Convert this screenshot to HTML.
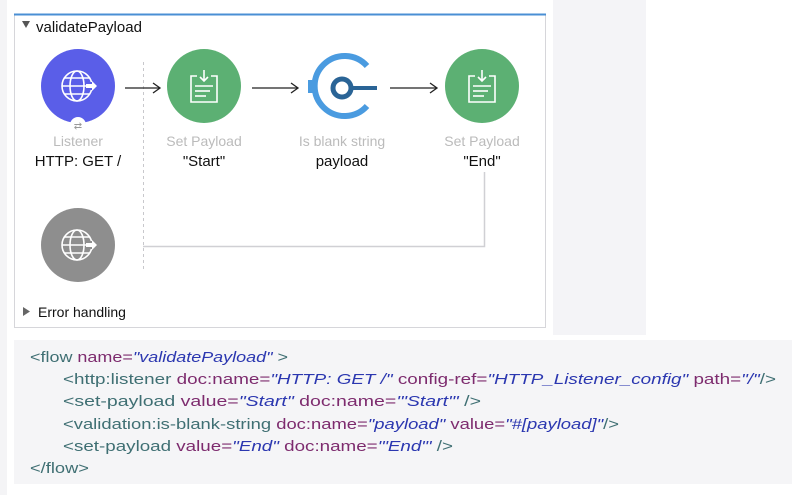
<!DOCTYPE html>
<html><head><meta charset="utf-8"><style>
html,body{margin:0;padding:0;background:#fff;}
svg{display:block;}
text{font-family:"Liberation Sans",sans-serif;}
</style></head><body>
<svg width="792" height="495" viewBox="0 0 792 495" xmlns="http://www.w3.org/2000/svg">
<rect x="0" y="0" width="792" height="495" fill="#fff"/>
<rect x="553" y="0" width="93" height="335" fill="#f4f4f7"/>
<rect x="0" y="0" width="7" height="495" fill="#f4f4f6"/>
<rect x="14.5" y="14.5" width="531" height="313" fill="#fff" stroke="#d6d6da" stroke-width="1"/>
<line x1="14" y1="14.5" x2="546" y2="14.5" stroke="#4a8fd4" stroke-width="2"/>
<polygon points="22,21 30,21 26,28" fill="#555"/>
<text x="36" y="32" font-size="15" fill="#111">validatePayload</text>
<line x1="143.5" y1="62" x2="143.5" y2="272" stroke="#c8c8cc" stroke-dasharray="3,3"/>
<polyline points="143,246.5 484.5,246.5 484.5,172" fill="none" stroke="#d0d0d4" stroke-width="1.5"/>
<g stroke="#222" stroke-width="1.3" fill="none">
<line x1="125" y1="88" x2="159" y2="88"/><polyline points="153,83 160,88 153,93"/>
<line x1="252" y1="88" x2="297" y2="88"/><polyline points="291,83 298,88 291,93"/>
<line x1="390" y1="88" x2="436" y2="88"/><polyline points="430,83 437,88 430,93"/>
</g>
<circle cx="78" cy="86" r="37" fill="#5a5ee8"/>
<g stroke="#fff" stroke-width="1.6" fill="none">
<circle cx="77" cy="86" r="15"/><ellipse cx="77" cy="86" rx="7" ry="15"/>
<line x1="62" y1="86" x2="92" y2="86"/><line x1="64" y1="78" x2="90" y2="78"/><line x1="64" y1="94" x2="90" y2="94"/>
</g>
<rect x="86" y="82" width="11" height="8" fill="#5a5ee8"/>
<polygon points="86,84 92,84 92,81 97,86 92,91 92,88 86,88" fill="#fff"/>
<circle cx="78" cy="125" r="8" fill="#fff"/>
<text x="78" y="129" font-size="10" fill="#999" text-anchor="middle">⇄</text>
<text x="78" y="146" font-size="14" fill="#bbb" text-anchor="middle">Listener</text>
<text x="78" y="166" font-size="15" fill="#111" text-anchor="middle">HTTP: GET /</text>
<circle cx="204" cy="86" r="37" fill="#5cb073"/>
<g stroke="#fff" stroke-width="1.6" fill="none">
<polyline points="197,76 191,76 191,102 217,102 217,76 211,76"/>
<line x1="204" y1="70" x2="204" y2="80"/><polyline points="200,77 204,81 208,77"/>
<line x1="195" y1="86" x2="213" y2="86"/><line x1="195" y1="91" x2="210" y2="91"/><line x1="195" y1="96" x2="206" y2="96"/>
</g>
<text x="204" y="146" font-size="14" fill="#bbb" text-anchor="middle">Set Payload</text>
<text x="204" y="166" font-size="15" fill="#111" text-anchor="middle">"Start"</text>
<path d="M 367 66 A 30 30 0 1 0 367 106" fill="none" stroke="#4a9be0" stroke-width="6"/>
<rect x="308" y="80" width="6" height="13" fill="#4a9be0"/>
<circle cx="342" cy="88" r="9" fill="none" stroke="#2a6496" stroke-width="5"/>
<line x1="350" y1="88" x2="377" y2="88" stroke="#2a6496" stroke-width="4"/>
<text x="342" y="146" font-size="14" fill="#bbb" text-anchor="middle">Is blank string</text>
<text x="342" y="166" font-size="15" fill="#111" text-anchor="middle">payload</text>
<circle cx="482" cy="86" r="37" fill="#5cb073"/>
<g stroke="#fff" stroke-width="1.6" fill="none">
<polyline points="475,76 469,76 469,102 495,102 495,76 489,76"/>
<line x1="482" y1="70" x2="482" y2="80"/><polyline points="478,77 482,81 486,77"/>
<line x1="473" y1="86" x2="491" y2="86"/><line x1="473" y1="91" x2="488" y2="91"/><line x1="473" y1="96" x2="484" y2="96"/>
</g>
<text x="482" y="146" font-size="14" fill="#bbb" text-anchor="middle">Set Payload</text>
<text x="482" y="166" font-size="15" fill="#111" text-anchor="middle">"End"</text>
<circle cx="78" cy="245" r="37" fill="#8e8e8e"/>
<g stroke="#fff" stroke-width="1.6" fill="none">
<circle cx="77" cy="245" r="15"/><ellipse cx="77" cy="245" rx="7" ry="15"/>
<line x1="62" y1="245" x2="92" y2="245"/><line x1="64" y1="237" x2="90" y2="237"/><line x1="64" y1="253" x2="90" y2="253"/>
</g>
<rect x="86" y="241" width="11" height="8" fill="#8e8e8e"/>
<polygon points="86,243 92,243 92,240 97,245 92,250 92,247 86,247" fill="#fff"/>
<polygon points="23,307 23,316 30,311.5" fill="#666"/>
<text x="38" y="317" font-size="14" fill="#111">Error handling</text>
<rect x="14" y="340" width="778" height="144" fill="#f5f5f7"/>
<g font-size="15">
<text x="30" y="362" textLength="258" lengthAdjust="spacingAndGlyphs"><tspan fill="#3f6f73">&lt;flow </tspan><tspan fill="#7d2b6e">name=</tspan><tspan fill="#2b37b0" font-style="italic">"validatePayload"</tspan><tspan fill="#3f6f73"> &gt;</tspan></text>
<text x="63" y="384" textLength="713" lengthAdjust="spacingAndGlyphs"><tspan fill="#3f6f73">&lt;http:listener </tspan><tspan fill="#7d2b6e">doc:name=</tspan><tspan fill="#2b37b0" font-style="italic">"HTTP: GET /"</tspan><tspan fill="#7d2b6e"> config-ref=</tspan><tspan fill="#2b37b0" font-style="italic">"HTTP_Listener_config"</tspan><tspan fill="#7d2b6e"> path=</tspan><tspan fill="#2b37b0" font-style="italic">"/"</tspan><tspan fill="#3f6f73">/&gt;</tspan></text>
<text x="63" y="406" textLength="418" lengthAdjust="spacingAndGlyphs"><tspan fill="#3f6f73">&lt;set-payload </tspan><tspan fill="#7d2b6e">value=</tspan><tspan fill="#2b37b0" font-style="italic">"Start"</tspan><tspan fill="#7d2b6e"> doc:name=</tspan><tspan fill="#2b37b0" font-style="italic">'"Start"'</tspan><tspan fill="#3f6f73"> /&gt;</tspan></text>
<text x="63" y="429" textLength="556" lengthAdjust="spacingAndGlyphs"><tspan fill="#3f6f73">&lt;validation:is-blank-string </tspan><tspan fill="#7d2b6e">doc:name=</tspan><tspan fill="#2b37b0" font-style="italic">"payload"</tspan><tspan fill="#7d2b6e"> value=</tspan><tspan fill="#2b37b0" font-style="italic">"#[payload]"</tspan><tspan fill="#3f6f73">/&gt;</tspan></text>
<text x="63" y="451" textLength="390" lengthAdjust="spacingAndGlyphs"><tspan fill="#3f6f73">&lt;set-payload </tspan><tspan fill="#7d2b6e">value=</tspan><tspan fill="#2b37b0" font-style="italic">"End"</tspan><tspan fill="#7d2b6e"> doc:name=</tspan><tspan fill="#2b37b0" font-style="italic">'"End"'</tspan><tspan fill="#3f6f73"> /&gt;</tspan></text>
<text x="30" y="473" textLength="59" lengthAdjust="spacingAndGlyphs" fill="#3f6f73">&lt;/flow&gt;</text>
</g>
</svg>
</body></html>
